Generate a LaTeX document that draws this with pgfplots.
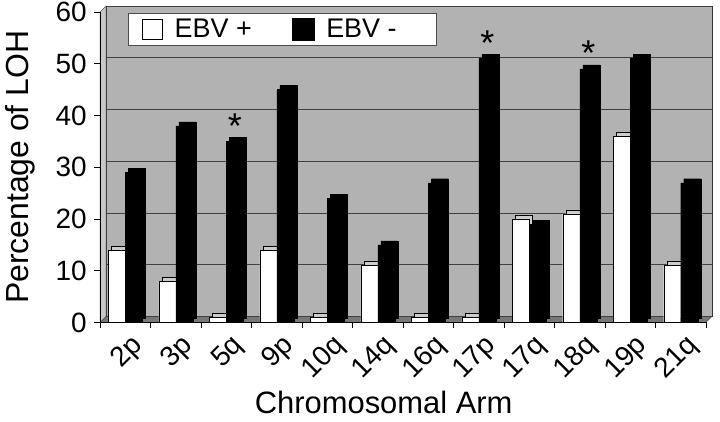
\documentclass[border=0pt]{standalone}
\usepackage{fontspec}
\setmainfont{Liberation Sans}
\usepackage{pgfplots}
\pgfplotsset{compat=1.18}

\definecolor{wall}{RGB}{178,178,178}
\definecolor{sidewall}{RGB}{200,200,200}
\definecolor{floorc}{RGB}{120,120,120}
\newcommand\fs[1]{\fontsize{#1}{#1}\selectfont}

\begin{document}
\begin{tikzpicture}
\begin{axis}[
    set layers,
    scale only axis, width=605bp, height=310bp,
    clip=false,
    xmin=-0.5, xmax=11.5, ymin=0, ymax=60,
    ybar, bar width=17bp,
    axis x line*=bottom, axis y line*=left,
    axis line style={black, line width=0.7pt, -},
    tick align=outside, major tick length=6bp,
    tick style={black, line width=0.7pt},
    xtick={-0.5,0.5,...,11.5},
    x tick label as interval,
    xticklabels={2p,3p,5q,9p,10q,14q,16q,17p,17q,18q,19p,21q},
    ytick={0,10,...,60},
    ymajorgrids,
    major grid style={black!75, line width=0.6pt, shift={(6bp,6bp)}},
    tick label style={font=\fs{28}},
    /pgf/number format/assume math mode=true,
    yticklabel style={xshift=-4bp},
    xticklabel style={xshift=13bp, yshift=-13bp, anchor=east, rotate=45, inner sep=0pt},
    xlabel={Chromosomal Arm},
    xlabel style={font=\fs{31}, inner sep=0pt, anchor=north,
        at={(axis description cs:0.468,0)}, yshift=-68bp},
    ylabel={Percentage of LOH},
    ylabel style={font=\fs{32}, inner sep=0pt, anchor=north, rotate=0,
        at={(axis description cs:-0.157,0.5)}},
    legend columns=2,
    legend style={at={(0.046,0.997)}, anchor=north west, draw=black!70,
        fill=white, font=\fs{27}, inner xsep=14bp, inner ysep=4bp,
        /tikz/every odd column/.append style={column sep=10bp},
        /tikz/every even column/.append style={column sep=38bp}},
]
\begin{pgfonlayer}{axis background}
\fill[wall, draw=black!80] ([shift={(6bp,6bp)}]rel axis cs:0,0) rectangle ([shift={(6bp,6bp)}]rel axis cs:1,1);
\fill[sidewall, draw=black!80] (rel axis cs:0,0) -- (rel axis cs:0,1) -- ([shift={(6bp,6bp)}]rel axis cs:0,1) -- ([shift={(6bp,6bp)}]rel axis cs:0,0) -- cycle;
\fill[floorc, draw=black!80] (rel axis cs:0,0) -- (rel axis cs:1,0) -- ([shift={(6bp,6bp)}]rel axis cs:1,0) -- ([shift={(6bp,6bp)}]rel axis cs:0,0) -- cycle;
\end{pgfonlayer}

% depth faces of the bars
\addplot[fill=black!20, draw=black, bar shift=-8.5bp, shift={(3bp,4bp)}, forget plot]
  coordinates {(0,14) (1,8) (2,1) (3,14) (4,1) (5,11) (6,1) (7,1) (8,20) (9,21) (10,36) (11,11)};
\addplot[fill=black, draw=black, bar shift=8.5bp, shift={(3bp,4bp)}, forget plot]
  coordinates {(0,29) (1,38) (2,35) (3,45) (4,24) (5,15) (6,27) (7,51) (8,19) (9,49) (10,51) (11,27)};

% EBV +
\addplot[fill=white, draw=black, bar shift=-8.5bp,
  legend image code/.code={\draw[fill=white, draw=black] (0bp,-10bp) rectangle (20bp,10bp);}]
  coordinates {(0,14) (1,8) (2,1) (3,14) (4,1) (5,11) (6,1) (7,1) (8,20) (9,21) (10,36) (11,11)};
\addlegendentry{EBV +}
% EBV -
\addplot[fill=black, draw=black, bar shift=8.5bp,
  legend image code/.code={\draw[fill=black, draw=black] (0bp,-11bp) rectangle (22bp,11bp);}]
  coordinates {(0,29) (1,38) (2,35) (3,45) (4,24) (5,15) (6,27) (7,51) (8,19) (9,49) (10,51) (11,27)};
\addlegendentry{EBV -\rule{24bp}{0pt}}

% significance marks
\addplot[draw=none, fill=none, bar shift=8.5bp, forget plot,
  nodes near coords={*},
  nodes near coords style={font=\fs{36}, anchor=base, inner sep=0pt, yshift=3bp}]
  coordinates {(2,35) (7,51) (9,49)};
\end{axis}
\pgfresetboundingbox
\path ([shift={(-100bp,-99bp)}]current axis.south west) rectangle ([shift={(14bp,12bp)}]current axis.north east);
\end{tikzpicture}
\end{document}
